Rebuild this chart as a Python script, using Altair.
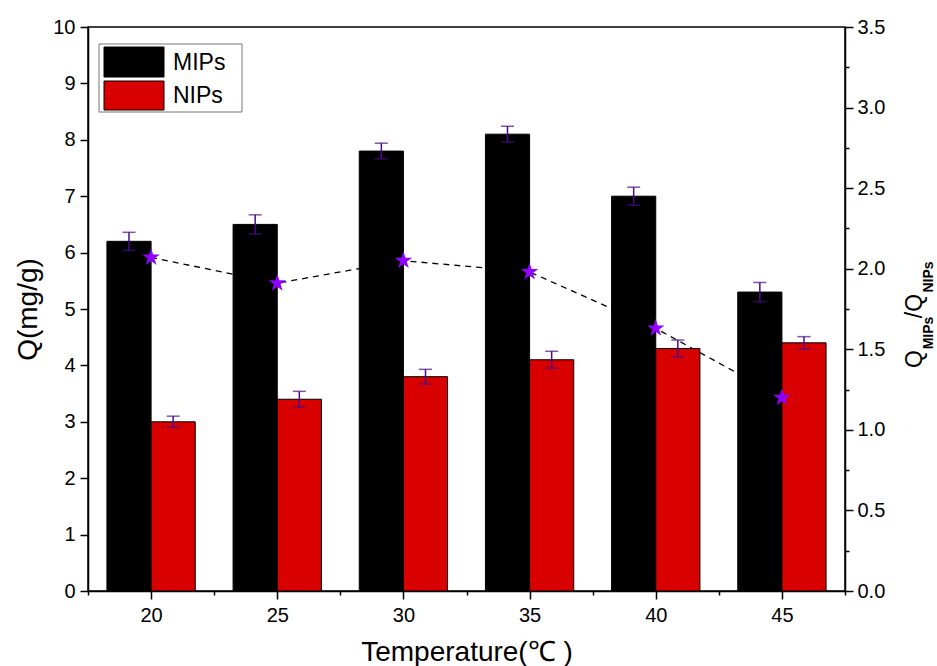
import altair as alt
import pandas as pd

# Adsorption capacity at each temperature
temps = [20, 25, 30, 35, 40, 45]
q_mips = [6.2, 6.5, 7.8, 8.1, 7.0, 5.3]
q_nips = [3.0, 3.4, 3.8, 4.1, 4.3, 4.4]
err_mips = [0.16, 0.17, 0.14, 0.14, 0.16, 0.17]
err_nips = [0.10, 0.14, 0.13, 0.15, 0.15, 0.11]
# Imprinting factor Q(MIPs)/Q(NIPs)
ratio = [2.07, 1.91, 2.05, 1.98, 1.63, 1.20]
series = ["MIPs", "NIPs"]
series_colors = ["#000000", "#d90000"]

x_ticks = [17.5 + 2.5 * i for i in range(13)]
left_ticks = [0.5 * i for i in range(21)]
right_ticks = [0.25 * i for i in range(15)]

BAR_W = 1.75
FONT = "Liberation Sans"
ERR_COLOR = "#4a0a8a"
STAR_COLOR = "#8f00ff"
# five-pointed star in the unit box used by Vega custom symbols
STAR_PATH = ("M0,-1L0.225,-0.309L0.951,-0.309L0.363,0.118L0.588,0.809L0,0.382"
             "L-0.588,0.809L-0.363,0.118L-0.951,-0.309L-0.225,-0.309Z")


def minor_dash(test):
    # minor ticks: only the first 4px of the tick line is drawn
    return {"condition": {"test": test, "value": [4, 20]}, "value": []}


bars_df = pd.DataFrame({
    "T": temps * 2,
    "series": [series[0]] * len(temps) + [series[1]] * len(temps),
    "Q": q_mips + q_nips,
    "err": err_mips + err_nips,
})
ratio_df = pd.DataFrame({"T": temps, "ratio": ratio})

x_scale = alt.Scale(domain=[17.5, 47.5], nice=False, zero=False)
q_scale = alt.Scale(domain=[0, 10], nice=False)
r_scale = alt.Scale(domain=[0, 3.5], nice=False)

x_axis = alt.Axis(
    orient="bottom", values=x_ticks,
    labelExpr="datum.value % 5 === 0 ? format(datum.value, 'd') : ''",
    tickSize=8, tickDash=minor_dash("datum.value % 5 !== 0"),
    labelFontSize=20, labelPadding=6, labelOverlap=False, labelFlush=False,
    title="Temperature(℃ )", titleFontSize=28, titleFontWeight="normal",
    titleY=61, titleBaseline="middle", grid=False,
)

base = alt.Chart(bars_df).transform_calculate(
    x0=f"datum.series === 'MIPs' ? datum.T - {BAR_W} : datum.T",
).transform_calculate(
    x1=f"datum.x0 + {BAR_W}",
    xc=f"datum.x0 + {BAR_W / 2}",
    lo="datum.Q - datum.err",
    hi="datum.Q + datum.err",
)

# Dashed ratio line sits behind the bars and carries the right axis
ratio_line = alt.Chart(ratio_df).mark_line(
    color="black", strokeDash=[6, 5], strokeWidth=1.3
).encode(
    x=alt.X("T:Q", scale=x_scale, axis=x_axis),
    y=alt.Y("ratio:Q", scale=r_scale, axis=alt.Axis(
        orient="right", values=right_ticks,
        labelExpr="datum.value % 0.5 === 0 ? format(datum.value, '.1f') : ''",
        tickSize=8, tickDash=minor_dash("datum.value % 0.5 !== 0"),
        labelFontSize=20, labelPadding=4, labelOverlap=False, labelFlush=False,
        title=None, grid=False,
    )),
)

bars = base.mark_bar(stroke="black", strokeWidth=1).encode(
    x=alt.X("x0:Q", scale=x_scale, axis=x_axis),
    x2="x1:Q",
    y=alt.Y("Q:Q", scale=q_scale, axis=alt.Axis(
        orient="left", values=left_ticks,
        labelExpr="datum.value % 1 === 0 ? format(datum.value, 'd') : ''",
        tickSize=8, tickDash=minor_dash("datum.value % 1 !== 0"),
        labelFontSize=20, labelPadding=5, labelOverlap=False, labelFlush=False,
        title="Q(mg/g)", titleFontSize=28, titleFontWeight="normal",
        titleX=-60, titleY=282, titleAngle=270, titleAlign="center", titleBaseline="middle",
        grid=False,
    )),
    y2=alt.datum(0),
    color=alt.Color("series:N", scale=alt.Scale(domain=series, range=series_colors),
                    legend=None),
)

err_rules = base.mark_rule(color=ERR_COLOR, strokeWidth=1.5).encode(
    x=alt.X("xc:Q", scale=x_scale, axis=x_axis),
    y=alt.Y("lo:Q", scale=q_scale),
    y2="hi:Q",
)

err_caps = base.transform_fold(["lo", "hi"], as_=["end", "v"]).mark_tick(
    orient="horizontal", size=13, thickness=1.5, color=ERR_COLOR
).encode(
    x=alt.X("xc:Q", scale=x_scale, axis=x_axis),
    y=alt.Y("v:Q", scale=q_scale),
)

stars = alt.Chart(ratio_df).mark_point(
    shape=STAR_PATH, filled=True, color=STAR_COLOR, size=340, opacity=1
).encode(
    x=alt.X("T:Q", scale=x_scale, axis=x_axis),
    y=alt.Y("ratio:Q", scale=r_scale, axis=None),
)

one = pd.DataFrame({"k": [0]})


def label(text, x, y, size, weight="normal", angle=0, align="center"):
    return alt.Chart(one).mark_text(
        text=text, angle=angle, align=align, baseline="middle",
        font=FONT, fontSize=size, fontWeight=weight, color="black",
    ).encode(x=alt.value(x), y=alt.value(y))


def box(x, x2, y, y2, fill, stroke):
    return alt.Chart(one).mark_rect(fill=fill, stroke=stroke, strokeWidth=1).encode(
        x=alt.value(x), x2=alt.value(x2), y=alt.value(y), y2=alt.value(y2)
    )


# Right-hand axis title with subscripts
right_title = [
    label("Q", 827, 332, 23, angle=270),
    label("MIPs", 841, 306, 14, "bold", angle=270),
    label("/Q", 827, 279, 23, angle=270),
    label("NIPs", 841, 250, 14, "bold", angle=270),
]

# Series key in the upper-left corner
legend = [
    box(11, 154, 17, 85, "white", "#777777"),
    box(16, 76, 20, 50, series_colors[0], "black"),
    box(16, 76, 54, 83, series_colors[1], "black"),
    label(series[0], 85, 36, 23, align="left"),
    label(series[1], 85, 69, 23, align="left"),
]

q_group = alt.layer(bars, err_rules, err_caps, *right_title, *legend)

chart = alt.layer(
    ratio_line, q_group, stars
).resolve_scale(
    y="independent"
).properties(
    width=757, height=564,
    autosize=alt.AutoSizeParams(type="none"),
    padding={"left": 88, "top": 27, "right": 92, "bottom": 75},
    background="white",
).configure_view(
    stroke="black", strokeWidth=1.5
).configure_axis(
    domainColor="black", domainWidth=1.5, tickColor="black", tickWidth=1.5,
    labelColor="black", labelFont=FONT, titleFont=FONT, titleColor="black",
)

chart.save("out.html", embed_options={"renderer": "svg", "actions": False})
